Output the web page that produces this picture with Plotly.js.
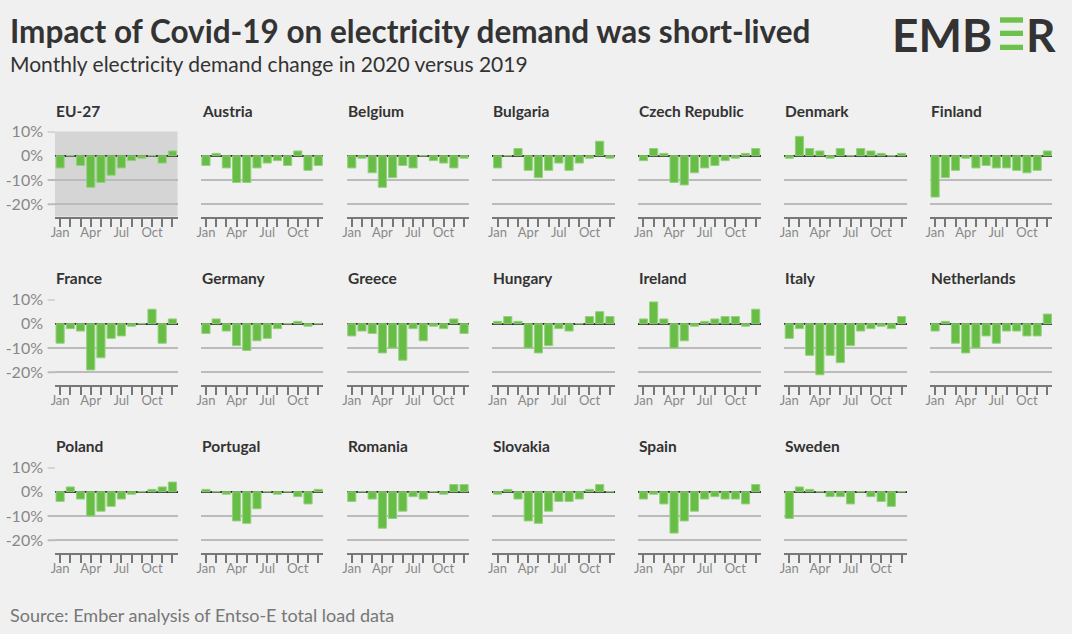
<!DOCTYPE html>
<html>
<head>
<meta charset="utf-8">
<script src="https://cdn.plot.ly/plotly-3.0.1.min.js"></script>
<style>
  html, body { margin: 0; padding: 0; background: #f0f0f0; }
  #chart { width: 1072px; height: 634px; }
</style>
</head>
<body>
<div id="chart"></div>
<script>
// ---- Data (monthly electricity demand change, 2020 vs 2019, %) ----
const months = ['Jan','Feb','Mar','Apr','May','Jun','Jul','Aug','Sep','Oct','Nov','Dec'];
const monthTickLabels = ['Jan','','','Apr','','','Jul','','','Oct','',''];
const yTickValues = [-20, -10, 0, 10];
const yTickLabels = ['-20%', '-10%', '0%', '10%'];

const countries = ['EU-27','Austria','Belgium','Bulgaria','Czech Republic','Denmark','Finland',
                   'France','Germany','Greece','Hungary','Ireland','Italy','Netherlands',
                   'Poland','Portugal','Romania','Slovakia','Spain','Sweden'];

const eu27        = [-5, 0, -4, -13, -11, -8, -5, -2, -1, 0, -3, 2];
const austria     = [-4, 1, -5, -11, -11, -5, -3, -2, -4, 2, -6, -4];
const belgium     = [-5, -1, -7, -13, -9, -4, -5, 0, -2, -3, -5, -1];
const bulgaria    = [-5, 0, 3, -6, -9, -6, -3, -6, -3, -1, 6, -1];
const czech       = [-2, 3, 1, -11, -12, -7, -5, -4, -2, -1, 1, 3];
const denmark     = [-1, 8, 3, 2, -1, 3, 0, 3, 2, 1, 0, 1];
const finland     = [-17, -9, -6, -1, -5, -4, -5, -5, -6, -7, -6, 2];
const france      = [-8, -2, -3, -19, -14, -6, -5, -1, 0, 6, -8, 2];
const germany     = [-4, 2, -3, -9, -11, -7, -6, -2, 0, 1, -1, 0];
const greece      = [-5, -3, -4, -12, -10, -15, -2, -7, -1, -2, 2, -4];
const hungary     = [1, 3, 1, -10, -12, -9, -2, -3, 0, 3, 5, 3];
const ireland     = [2, 9, 2, -10, -7, -1, 1, 2, 3, 3, -1, 6];
const italy       = [-6, -2, -13, -21, -13, -16, -9, -3, -2, -1, -2, 3];
const netherlands = [-3, 1, -8, -12, -10, -5, -8, -3, -3, -5, -5, 4];
const poland      = [-4, 2, -3, -10, -8, -6, -3, -1, 0, 1, 2, 4];
const portugal    = [1, 0, -1, -12, -13, -7, 0, -1, 0, -2, -5, 1];
const romania     = [-4, 0, -3, -15, -11, -8, -2, -3, 0, -1, 3, 3];
const slovakia    = [-1, 1, -3, -12, -13, -8, -4, -4, -3, 1, 3, 0];
const spain       = [-3, -1, -5, -17, -12, -8, -3, -2, -3, -3, -5, 3];
const sweden      = [-11, 2, 1, 0, -2, -2, -5, 0, -2, -4, -6, 0];

const seriesValues = [eu27, austria, belgium, bulgaria, czech, denmark, finland,
                      france, germany, greece, hungary, ireland, italy, netherlands,
                      poland, portugal, romania, slovakia, spain, sweden];

// ---- Layout geometry (pixels) ----
const W = 1072, H = 634;
const FONT = 'Lato, "Source Sans Pro", "Open Sans", sans-serif';
const colLeft0 = 55, colPitch = 145.83, panelW = 122.5;
const rowTops = [131.5, 299.5, 467.5], panelH = 85;
const px = v => v / W;
const py = v => 1 - v / H;

const data = [];
const shapes = [];
const annotations = [];
const layout = {
  width: W, height: H,
  margin: {l: 0, r: 0, t: 0, b: 0},
  paper_bgcolor: '#f0f0f0',
  plot_bgcolor: 'rgba(0,0,0,0)',
  showlegend: false,
  bargap: 0.2,
  font: {family: FONT, color: '#333'},
  hovermode: false
};

countries.forEach((name, i) => {
  const row = Math.floor(i / 7), col = i % 7;
  const s = i === 0 ? '' : String(i + 1);
  const L = colLeft0 + col * colPitch;
  const T = rowTops[row];

  layout['xaxis' + s] = {
    domain: [px(L), px(L + panelW)],
    anchor: 'y' + s,
    type: 'category',
    categoryorder: 'array', categoryarray: months,
    range: [-0.5, 11.5],
    tickmode: 'array', tickvals: months, ticktext: monthTickLabels,
    ticks: 'outside', ticklen: 8, tickwidth: 2, tickcolor: '#777',
    ticklabelstandoff: -5,
    showline: true, linecolor: '#777', linewidth: 2,
    showgrid: false, zeroline: false,
    tickfont: {family: FONT, size: 13, color: '#888'},
    fixedrange: true
  };
  layout['yaxis' + s] = {
    domain: [py(T + panelH), py(T)],
    anchor: 'x' + s,
    range: [-25, 10],
    tickmode: 'array', tickvals: yTickValues, ticktext: yTickLabels,
    showticklabels: col === 0,
    ticks: '', ticklabelstandoff: 11,
    showgrid: true, gridcolor: '#bbbbbb', gridwidth: 2,
    zeroline: true, zerolinecolor: '#333', zerolinewidth: 2,
    showline: false,
    tickfont: {family: FONT, size: 16, color: '#888'},
    fixedrange: true
  };

  data.push({
    type: 'bar',
    x: months,
    y: seriesValues[i],
    xaxis: 'x' + s, yaxis: 'y' + s,
    marker: {color: '#67bd46', line: {color: '#96d17f', width: 1}},
    hoverinfo: 'skip'
  });

  annotations.push({
    xref: 'paper', yref: 'paper',
    x: px(L - 1), y: py(T - 21),
    xanchor: 'left', yanchor: 'middle',
    text: '<b>' + name + '</b>', showarrow: false,
    font: {family: FONT, size: 15.5, color: '#333'}
  });

  if (col === 0) {
    [-20, -10, 10].forEach(v => {
      shapes.push({
        type: 'line', xref: 'x' + s + ' domain', yref: 'y' + s,
        x0: -0.06, x1: 0, y0: v, y1: v,
        line: {color: '#bbbbbb', width: 2}, layer: 'below'
      });
    });
  }
  if (i === 0) {
    shapes.push({
      type: 'rect', xref: 'x domain', yref: 'y domain',
      x0: 0, x1: 1, y0: 0, y1: 1,
      fillcolor: '#d5d5d5', line: {width: 0}, layer: 'below'
    });
  }
});

// Titles
annotations.push({
  xref: 'paper', yref: 'paper', x: px(8), y: py(31),
  xanchor: 'left', yanchor: 'middle', showarrow: false,
  text: '<b>Impact of Covid-19 on electricity demand was short-lived</b>',
  font: {family: FONT, size: 31.5, color: '#333'}
});
annotations.push({
  xref: 'paper', yref: 'paper', x: px(8), y: py(63),
  xanchor: 'left', yanchor: 'middle', showarrow: false,
  text: 'Monthly electricity demand change in 2020 versus 2019',
  font: {family: FONT, size: 21, color: '#333'}
});
annotations.push({
  xref: 'paper', yref: 'paper', x: px(8), y: py(615),
  xanchor: 'left', yanchor: 'middle', showarrow: false,
  text: 'Source: Ember analysis of Entso-E total load data',
  font: {family: FONT, size: 18, color: '#777'}
});

// EMBER logo
annotations.push({
  xref: 'paper', yref: 'paper', x: px(994), y: py(34),
  xanchor: 'right', yanchor: 'middle', showarrow: false,
  text: '<b>EMB</b>',
  font: {family: FONT, size: 46, color: '#333'}
});
annotations.push({
  xref: 'paper', yref: 'paper', x: px(1024), y: py(34),
  xanchor: 'left', yanchor: 'middle', showarrow: false,
  text: '<b>R</b>',
  font: {family: FONT, size: 46, color: '#333'}
});
[[17.3, 22.7], [30.7, 36], [44.7, 50]].forEach(([a, b]) => {
  shapes.push({
    type: 'rect', xref: 'paper', yref: 'paper',
    x0: px(1000), x1: px(1023), y0: py(b), y1: py(a),
    fillcolor: '#6cc24a', line: {width: 0}
  });
});

layout.shapes = shapes;
layout.annotations = annotations;

Plotly.newPlot('chart', data, layout, {displayModeBar: false, staticPlot: true});
</script>
</body>
</html>
